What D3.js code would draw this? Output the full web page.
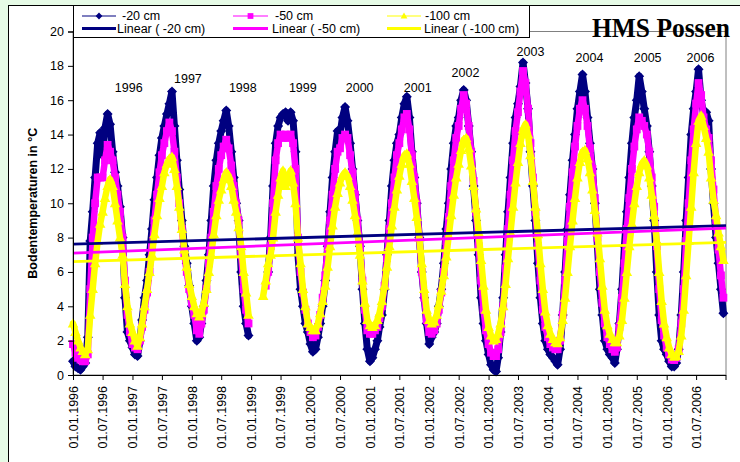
<!DOCTYPE html>
<html><head><meta charset="utf-8">
<script src="https://cdn.jsdelivr.net/npm/d3@7"></script>
<style>body{margin:0;background:#e6fbe6;} svg{display:block}</style>
</head><body><svg id="c" width="740" height="462"></svg>
<script>
// semi-monthly readings (1st and 16th of each month), 1996-2006
const years = [1996,1997,1998,1999,2000,2001,2002,2003,2004,2005,2006];
const days = [1,16];
const depth20 = [
 0.8,0.5,0.4,0.3,0.5,0.7,2.2,7.8,9.5,11.5,13.5,14.1,12.8,14.4,15.2,14.6,13.0,11.8,11.0,9.8,8.0,4.5,2.5,2.0,
 1.6,1.2,1.1,2.0,3.2,4.5,5.5,7.0,8.5,10.2,11.5,12.8,13.8,14.5,15.2,15.8,16.5,14.5,12.5,10.8,9.0,7.5,6.5,5.2,
 4.0,3.0,2.0,2.2,3.0,4.0,5.5,7.0,9.0,11.0,12.5,13.5,14.2,14.8,15.4,14.5,13.0,11.5,10.0,9.0,6.0,4.0,3.0,2.3,
 null,null,null,null,null,null,null,6.0,8.0,11.0,13.5,14.5,15.0,15.2,15.3,14.8,15.3,14.8,13.0,7.0,5.0,4.0,3.0,2.5,
 1.8,1.35,1.5,2.2,3.0,4.0,5.5,7.5,9.5,11.5,13.0,14.2,14.0,15.0,15.6,14.8,13.5,12.0,10.5,9.0,7.5,5.0,3.0,1.5,
 0.8,1.0,1.5,2.0,2.8,3.5,5.0,7.0,9.0,11.0,12.5,13.5,14.0,15.0,15.8,16.2,15.0,13.0,11.5,10.0,8.0,6.0,4.5,3.0,
 1.8,2.2,2.5,3.0,4.0,5.0,6.5,8.5,10.0,12.0,13.5,14.5,15.0,16.0,16.6,16.0,14.5,13.0,11.0,9.0,7.0,4.5,3.0,2.0,
 1.2,0.6,0.3,0.2,1.0,2.5,4.5,7.0,9.5,11.5,13.5,15.0,15.8,16.8,18.2,17.0,15.5,13.0,11.0,9.0,6.5,4.5,3.0,2.0,
 1.5,1.2,1.0,0.8,0.6,1.5,3.5,6.0,8.5,10.5,12.5,14.0,15.5,16.5,17.5,16.5,15.0,13.5,12.0,10.0,7.5,5.0,3.5,2.0,
 1.5,1.2,1.0,0.7,1.5,3.0,5.0,7.5,9.5,11.5,13.5,15.0,16.0,17.4,16.5,15.5,14.5,13.0,11.0,9.0,6.0,3.5,2.0,1.5,
 1.2,0.8,0.5,0.5,0.7,1.5,3.5,6.0,9.0,11.5,14.0,15.5,16.5,17.8,16.0,15.2,15.3,14.8,12.0,10.0,8.0,6.5,5.0,3.6
];
const depth50 = [
 1.8,1.3,1.0,0.9,0.8,0.8,1.2,5.0,8.0,10.0,11.5,11.5,11.5,12.5,13.4,13.0,12.5,11.5,10.5,9.5,8.0,5.5,3.5,2.5,
 1.8,1.6,1.5,2.0,2.8,3.8,4.8,6.0,7.5,9.0,10.5,11.8,12.8,13.5,14.2,14.7,14.2,13.0,11.5,10.0,8.5,7.0,6.0,5.0,
 4.2,3.5,2.6,2.4,3.0,3.8,5.0,6.5,8.0,9.5,11.0,12.0,12.8,13.3,13.7,13.2,12.2,11.0,10.0,9.0,7.0,5.0,3.8,3.0,
 null,null,null,null,null,null,5.2,6.0,7.5,10.0,12.5,13.5,14.0,13.8,14.0,13.8,14.0,13.5,12.0,8.0,6.0,4.8,3.8,3.0,
 2.5,2.2,2.3,2.8,3.5,4.5,5.8,7.5,9.0,10.5,12.0,13.0,13.2,13.8,14.0,13.8,12.8,11.8,10.5,9.0,7.5,5.5,3.8,2.6,
 2.4,2.4,2.6,2.8,3.3,4.0,5.2,6.8,8.5,10.0,11.5,12.8,13.5,14.3,15.0,15.2,14.3,12.8,11.5,10.0,8.0,6.0,4.5,3.2,
 2.5,2.4,2.6,3.0,3.8,4.8,6.0,7.8,9.2,11.0,12.5,13.8,14.5,15.5,16.3,15.8,14.5,13.0,11.3,9.5,7.5,5.5,3.8,2.6,
 1.8,1.3,1.1,1.1,1.5,2.5,4.0,6.2,8.5,10.5,12.5,14.2,15.3,16.5,17.7,17.0,15.5,13.5,11.5,9.5,7.5,5.5,3.8,2.8,
 2.2,1.8,1.6,1.5,1.5,2.0,3.5,5.5,7.8,9.8,11.8,13.3,14.5,15.5,16.0,15.5,14.5,13.2,12.0,10.3,8.0,6.0,4.2,3.0,
 2.2,1.8,1.5,1.35,1.6,2.8,4.5,6.5,8.5,10.3,12.0,13.3,14.3,15.0,14.8,14.5,14.0,13.0,11.5,9.8,7.5,5.0,3.2,2.3,
 1.6,1.2,0.9,0.87,1.0,1.5,3.0,5.0,7.8,10.0,12.5,14.3,15.8,17.0,16.3,15.0,14.3,13.8,12.5,10.8,9.0,7.3,5.8,4.5
];
const depth100 = [
 3.0,2.5,2.0,1.6,1.4,1.2,1.5,3.5,5.0,6.5,7.8,8.8,9.5,10.3,11.0,11.4,11.0,10.0,9.0,8.0,7.0,5.3,4.0,3.0,
 2.5,2.0,1.7,2.2,3.0,4.0,5.0,6.0,7.0,8.2,9.3,10.3,11.0,11.8,12.3,12.6,12.7,12.0,11.0,9.8,8.5,7.3,6.3,5.3,
 4.6,4.0,3.6,3.4,3.6,4.2,5.0,6.0,7.0,8.2,9.3,10.2,10.8,11.4,11.8,11.6,11.0,10.2,9.5,8.6,7.5,6.0,4.8,3.5,
 null,null,null,null,null,4.6,5.5,6.5,7.0,8.0,9.5,10.5,11.5,11.9,11.0,11.3,11.9,11.2,10.0,8.0,6.5,5.0,4.0,3.0,
 2.8,2.6,2.6,3.0,3.6,4.3,5.2,6.3,7.5,8.7,9.8,10.6,11.2,11.6,11.8,11.6,11.0,10.2,9.3,8.3,7.0,5.5,4.2,3.2,
 2.9,2.8,2.9,3.2,3.6,4.3,5.2,6.3,7.5,8.7,9.8,10.8,11.6,12.3,12.8,12.9,12.3,11.3,10.3,9.2,8.0,6.5,5.0,3.8,
 3.2,3.0,3.1,3.5,4.1,4.9,5.8,6.9,8.1,9.3,10.5,11.5,12.3,13.1,13.7,13.8,13.2,12.2,11.0,9.7,8.3,6.7,5.2,3.8,
 2.8,2.3,2.0,2.1,2.4,3.0,4.0,5.3,6.8,8.3,9.8,11.2,12.4,13.5,14.3,14.6,14.0,12.8,11.3,9.8,8.2,6.5,5.0,3.7,
 2.9,2.4,2.1,1.9,1.85,2.2,3.2,4.5,6.0,7.5,9.0,10.3,11.5,12.4,13.0,13.1,12.6,11.8,10.8,9.6,8.3,6.8,5.2,3.8,
 2.9,2.4,2.1,1.9,1.9,2.3,3.2,4.5,6.0,7.5,8.8,10.0,11.0,11.8,12.3,12.5,12.2,11.5,10.5,9.3,7.8,6.0,4.3,3.0,
 2.2,1.6,1.2,1.06,1.1,1.4,2.3,3.8,5.8,7.8,9.8,11.8,13.5,14.8,15.1,14.5,13.8,13.0,11.5,10.2,9.3,8.3,7.5,6.7
];
// linear trend lines: value at start and end of the period
const trend20 = [7.62, 8.7];
const trend50 = [7.1, 8.55];
const trend100 = [6.6, 7.72];
// annotations
const yearLabels = ["1996","1997","1998","1999","2000","2001","2002","2003","2004","2005","2006"];
const yearLabelDates = ["1996-12-09","1997-12-08","1998-11-11","1999-11-15","2000-10-30","2001-10-22","2002-08-12","2003-09-16","2004-09-13","2005-09-06","2006-07-28"];
const yearLabelValues = [16.45,16.98,16.45,16.45,16.45,16.45,17.33,18.6,18.2,18.2,18.2];
const yTicks = [0,2,4,6,8,10,12,14,16,18,20];
const seriesNames = ["-20 cm","-50 cm","-100 cm"];
const trendNames = ["Linear ( -20 cm)","Linear ( -50 cm)","Linear ( -100 cm)"];
const colors = ["#000080","#ff00ff","#ffff00"];

const dates = [];
years.forEach(y => { for (let m=0;m<12;m++) days.forEach(d => dates.push(new Date(Date.UTC(y,m,d)))); });

const svg = d3.select("#c");
const font = "Arial, 'Liberation Sans', sans-serif";
svg.append("rect").attr("x",8.5).attr("y",5.5).attr("width",760).attr("height",480)
  .attr("fill","#fff").attr("stroke","#000");

const x = d3.scaleUtc().domain([new Date(Date.UTC(1996,0,1)), new Date(Date.UTC(2007,0,1))]).range([73,726]);
const y = d3.scaleLinear().domain([0,20]).range([375,31.5]);

svg.append("rect").attr("x",73).attr("y",y(20)).attr("width",726-73).attr("height",375-y(20))
  .attr("fill","#fff").attr("stroke","#808080");

const shapes = [
  r => `M0,${-r}L${r},0L0,${r}L${-r},0Z`,
  r => `M${-r*0.85},${-r*0.85}H${r*0.85}V${r*0.85}H${-r*0.85}Z`,
  r => `M0,${-r}L${r},${r*0.75}L${-r},${r*0.75}Z`
];
const sizes = [5, 4.6, 5.3];
const widths = [7, 6.5, 6.5];
const allSeries = [depth20, depth50, depth100];
const plot = svg.append("g");
allSeries.forEach((vals, i) => {
  const pts = vals.map((v,j) => ({d: dates[j], v}));
  plot.append("path").datum(pts)
    .attr("d", d3.line().defined(p => p.v !== null).x(p => x(p.d)).y(p => y(p.v)))
    .attr("fill","none").attr("stroke",colors[i]).attr("stroke-width",widths[i])
    .attr("stroke-linejoin","round").attr("stroke-linecap","round");
  plot.append("g").selectAll("path").data(pts.filter(p => p.v !== null)).join("path")
    .attr("transform", p => `translate(${x(p.d)},${y(p.v)})`)
    .attr("d", shapes[i](sizes[i])).attr("fill",colors[i]);
});
[trend20, trend50, trend100].forEach((t,i) => {
  plot.append("line")
    .attr("x1", x(dates[0])).attr("y1", y(t[0]))
    .attr("x2", x(new Date(Date.UTC(2007,0,1)))).attr("y2", y(t[1]))
    .attr("stroke", colors[i]).attr("stroke-width", 2.8);
});

// axes
const yAxis = d3.axisLeft(y).tickValues(yTicks).tickSize(5).tickPadding(4);
const gy = svg.append("g").attr("transform","translate(73,0)").call(yAxis);
gy.select(".domain").attr("stroke","#000");
gy.selectAll("text").attr("font-family",font).attr("font-size","12.5px").attr("fill","#000");

const xTickDates = d3.utcMonth.every(6).range(new Date(Date.UTC(1996,0,1)), new Date(Date.UTC(2006,7,1)));
const xAxis = d3.axisBottom(x).tickValues(xTickDates).tickSize(5).tickFormat(d3.utcFormat("%d.%m.%Y"));
const gx = svg.append("g").attr("transform","translate(0,375)").call(xAxis);
gx.select(".domain").attr("stroke","#000").attr("d","M73,0.5H726");
gx.selectAll("text").attr("font-family",font).attr("font-size","12.5px").attr("fill","#000")
  .attr("transform","rotate(-90)").attr("text-anchor","end").attr("x",-11).attr("y",0).attr("dy","0.35em");
gx.append("line").attr("x1",726).attr("x2",726).attr("y1",0).attr("y2",5).attr("stroke","#000");

svg.append("text").attr("transform",`translate(37,${(375+31.5)/2}) rotate(-90)`)
  .attr("text-anchor","middle").attr("font-family",font).attr("font-weight","bold")
  .attr("font-size","12.5px").text("Bodentemperaturen in °C");

// year annotations
yearLabels.forEach((t,i) => {
  svg.append("text").attr("x", x(new Date(yearLabelDates[i]+"T00:00:00Z"))).attr("y", y(yearLabelValues[i]))
    .attr("text-anchor","middle").attr("font-family",font).attr("font-size","12.5px").attr("fill","#000").text(t);
});

// legend
const lg = svg.append("g");
lg.append("rect").attr("x",73.5).attr("y",5.5).attr("width",456).attr("height",32).attr("fill","#fff").attr("stroke","#000");
const colX = [82, 233, 387];
const colW = [34, 35, 34];
const textX = [[122,117],[275,272],[425,424]];
seriesNames.forEach((n,i) => {
  lg.append("line").attr("x1",colX[i]).attr("x2",colX[i]+colW[i]).attr("y1",16).attr("y2",16).attr("stroke",colors[i]).attr("stroke-width",1.2);
  lg.append("path").attr("transform",`translate(${colX[i]+colW[i]/2},16)`).attr("d",shapes[i](3.4)).attr("fill",colors[i]);
  lg.append("text").attr("x",textX[i][0]).attr("y",19.6).attr("font-family",font).attr("font-size","12.5px").text(n);
  lg.append("line").attr("x1",colX[i]).attr("x2",colX[i]+colW[i]).attr("y1",28.5).attr("y2",28.5).attr("stroke",colors[i]).attr("stroke-width",3);
  lg.append("text").attr("x",textX[i][1]).attr("y",33.4).attr("font-family",font).attr("font-size","12.5px").text(trendNames[i]);
});

svg.append("text").attr("x",592).attr("y",37)
  .attr("font-family","'Liberation Serif','Times New Roman',serif").attr("font-size","27px").attr("font-weight","bold")
  .attr("textLength",138).attr("lengthAdjust","spacingAndGlyphs").text("HMS Possen");
</script></body></html>
